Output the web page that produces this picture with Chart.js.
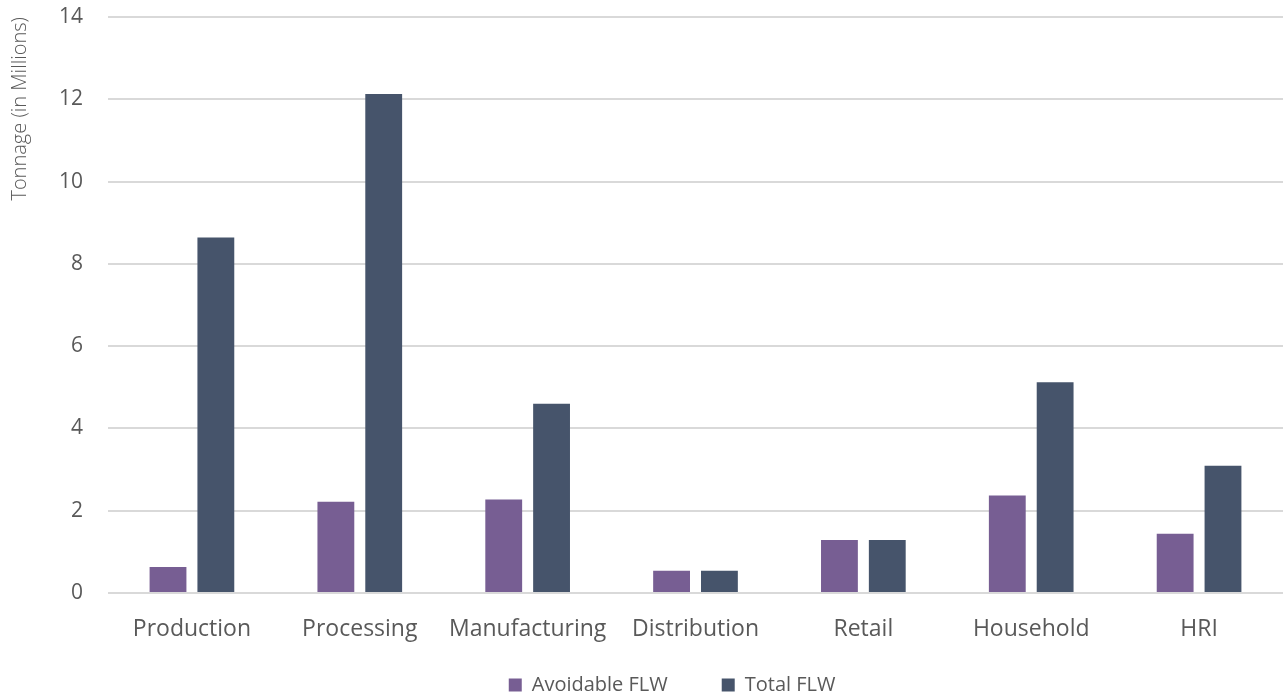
<!DOCTYPE html>
<html>
<head>
<meta charset="utf-8">
<script src="https://cdn.jsdelivr.net/npm/chart.js@4.4.0/dist/chart.umd.min.js"></script>
<style>
    html, body { margin: 0; padding: 0; background: #fff; }
    #wrap { width: 1283px; height: 700px; }
</style>
</head>
<body>
<div id="wrap"><canvas id="myChart" width="1283" height="700"></canvas></div>
<script>
// stages of the supply chain
const labels = ['Production', 'Processing', 'Manufacturing', 'Distribution', 'Retail', 'Household', 'HRI'];
// tonnage in millions
const avoidable = [0.63, 2.22, 2.27, 0.54, 1.29, 2.37, 1.44];
const total = [8.64, 12.13, 4.6, 0.54, 1.29, 5.12, 3.09];
const yTicks = [0, 2, 4, 6, 8, 10, 12, 14];

const ctx = document.getElementById('myChart');
const tickColor = '#595959';

const myChart = new Chart(ctx, {
    type: 'bar',
    data: {
        labels: labels,
        datasets: [{
                label: 'Avoidable FLW',
                backgroundColor: '#775e93',
                data: avoidable,
                categoryPercentage: 0.57,
                barPercentage: 0.77
            },
            {
                label: 'Total FLW',
                backgroundColor: '#46546b',
                data: total,
                categoryPercentage: 0.57,
                barPercentage: 0.77
            }
        ]
    },
    options: {
        responsive: false,
        animation: false,
        layout: {
            padding: { top: 17, right: 0, bottom: 0, left: 8 }
        },
        plugins: {
            tooltip: { enabled: false },
            legend: {
                position: 'bottom',
                fullSize: false,
                maxHeight: 27,
                labels: {
                    boxWidth: 13,
                    boxHeight: 13,
                    padding: 2,
                    color: tickColor,
                    font: { family: 'Open Sans', size: 20 },
                    generateLabels: function (chart) {
                        // wider gap between entries, legend sits a bit left of centre
                        const items = Chart.defaults.plugins.legend.labels.generateLabels(chart);
                        items[0].text = items[0].text + '          ';
                        items[1].text = items[1].text + '         ';
                        return items;
                    }
                }
            }
        },
        scales: {
            x: {
                grid: { display: false },
                border: { display: false },
                afterFit: function (scale) {
                    scale.height = 80;
                },
                ticks: {
                    color: tickColor,
                    padding: 15,
                    maxRotation: 0,
                    font: { family: 'Open Sans', size: 23 }
                }
            },
            y: {
                min: 0,
                max: 14,
                afterBuildTicks: function (scale) {
                    scale.ticks = yTicks.map(v => ({ value: v }));
                },
                afterFit: function (scale) {
                    scale.width = 100;
                },
                grid: {
                    color: '#d9d9d9',
                    lineWidth: 2,
                    drawTicks: true,
                    tickLength: 25,
                    tickColor: 'rgba(0,0,0,0)'
                },
                border: { display: false },
                ticks: {
                    color: tickColor,
                    padding: 0,
                    font: { family: 'Open Sans', size: 21 }
                },
                title: {
                    display: true,
                    text: 'Tonnage (in Millions)',
                    align: 'end',
                    color: tickColor,
                    padding: 0,
                    font: { family: 'Open Sans', size: 20, weight: 300 }
                }
            }
        }
    }
});
</script>
</body>
</html>
